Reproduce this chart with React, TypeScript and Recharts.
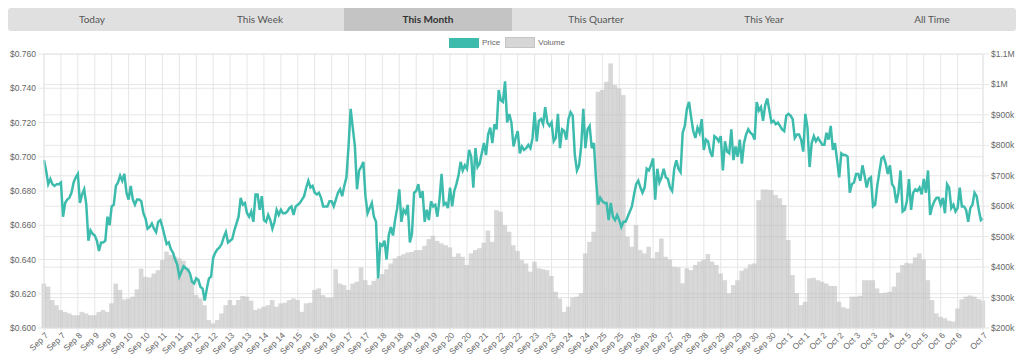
import { ComposedChart, Bar, Line, XAxis, YAxis, CartesianGrid } from "recharts";

const tabs = ["Today", "This Week", "This Month", "This Quarter", "This Year", "All Time"];
const activeTab = "This Month";

const tickLabels = [
  "Sep 7", "Sep 7", "Sep 8", "Sep 9", "Sep 9", "Sep 10", "Sep 10", "Sep 11", "Sep 11", "Sep 12",
  "Sep 12", "Sep 13", "Sep 13", "Sep 14", "Sep 14", "Sep 15", "Sep 16", "Sep 16", "Sep 17", "Sep 17",
  "Sep 18", "Sep 18", "Sep 19", "Sep 19", "Sep 20", "Sep 20", "Sep 21", "Sep 22", "Sep 22", "Sep 23",
  "Sep 23", "Sep 24", "Sep 24", "Sep 25", "Sep 25", "Sep 26", "Sep 26", "Sep 27", "Sep 28", "Sep 28",
  "Sep 29", "Sep 29", "Sep 30", "Sep 30", "Oct 1", "Oct 1", "Oct 2", "Oct 2", "Oct 3", "Oct 3",
  "Oct 4", "Oct 5", "Oct 5", "Oct 6", "Oct 6", "Oct 7",
];

// price in USD, sampled twice as often as volume
const price = [
  0.698, 0.692, 0.684, 0.687, 0.684, 0.683, 0.684, 0.684, 0.685, 0.665,
  0.673, 0.675, 0.676, 0.679, 0.685, 0.688, 0.690, 0.673, 0.678, 0.681,
  0.672, 0.651, 0.657, 0.655, 0.654, 0.651, 0.645, 0.650, 0.650, 0.651,
  0.665, 0.660, 0.671, 0.672, 0.683, 0.685, 0.689, 0.686, 0.690, 0.679,
  0.675, 0.683, 0.675, 0.672, 0.675, 0.675, 0.674, 0.667, 0.664, 0.658,
  0.659, 0.661, 0.658, 0.656, 0.662, 0.663, 0.659, 0.654, 0.649, 0.650,
  0.646, 0.644, 0.640, 0.637, 0.630, 0.633, 0.636, 0.635, 0.634, 0.632,
  0.627, 0.626, 0.629, 0.628, 0.624, 0.623, 0.616, 0.623, 0.629, 0.630,
  0.641, 0.644, 0.646, 0.647, 0.649, 0.653, 0.656, 0.650, 0.651, 0.652,
  0.657, 0.661, 0.665, 0.676, 0.672, 0.673, 0.667, 0.665, 0.668, 0.662,
  0.678, 0.678, 0.669, 0.677, 0.663, 0.662, 0.666, 0.663, 0.658, 0.662,
  0.669, 0.666, 0.669, 0.667, 0.667, 0.668, 0.670, 0.671, 0.666, 0.671,
  0.672, 0.673, 0.675, 0.677, 0.682, 0.686, 0.682, 0.683, 0.679, 0.678,
  0.679, 0.676, 0.671, 0.671, 0.671, 0.674, 0.674, 0.671, 0.675, 0.679,
  0.681, 0.677, 0.683, 0.688, 0.706, 0.728, 0.717, 0.706, 0.681, 0.692,
  0.694, 0.697, 0.677, 0.667, 0.670, 0.673, 0.665, 0.662, 0.629, 0.649,
  0.648, 0.651, 0.640, 0.654, 0.659, 0.654, 0.663, 0.670, 0.681, 0.662,
  0.669, 0.667, 0.672, 0.650, 0.655, 0.679, 0.680, 0.684, 0.676, 0.680,
  0.662, 0.669, 0.663, 0.674, 0.671, 0.672, 0.665, 0.675, 0.690, 0.672,
  0.673, 0.670, 0.682, 0.671, 0.680, 0.684, 0.689, 0.697, 0.692, 0.695,
  0.693, 0.704, 0.700, 0.682, 0.705, 0.694, 0.696, 0.702, 0.708, 0.701,
  0.713, 0.717, 0.708, 0.719, 0.716, 0.739, 0.733, 0.732, 0.744, 0.720,
  0.725, 0.720, 0.706, 0.711, 0.715, 0.702, 0.706, 0.704, 0.705, 0.707,
  0.705, 0.711, 0.726, 0.709, 0.721, 0.722, 0.719, 0.729, 0.720, 0.718,
  0.720, 0.709, 0.711, 0.725, 0.705, 0.716, 0.715, 0.710, 0.722, 0.726,
  0.724, 0.701, 0.692, 0.695, 0.706, 0.728, 0.705, 0.716, 0.718, 0.705,
  0.708, 0.687, 0.672, 0.676, 0.674, 0.673, 0.673, 0.663, 0.673, 0.665,
  0.663, 0.666, 0.663, 0.659, 0.662, 0.662, 0.665, 0.668, 0.671, 0.678,
  0.684, 0.686, 0.682, 0.679, 0.682, 0.693, 0.692, 0.695, 0.699, 0.675,
  0.693, 0.685, 0.688, 0.693, 0.688, 0.687, 0.682, 0.680, 0.693, 0.698,
  0.693, 0.691, 0.714, 0.718, 0.728, 0.732, 0.723, 0.715, 0.711, 0.717,
  0.714, 0.722, 0.704, 0.710, 0.709, 0.703, 0.700, 0.712, 0.711, 0.709,
  0.712, 0.692, 0.709, 0.703, 0.702, 0.716, 0.698, 0.706, 0.700, 0.710,
  0.696, 0.708, 0.713, 0.716, 0.714, 0.713, 0.710, 0.732, 0.727, 0.729,
  0.721, 0.730, 0.734, 0.727, 0.720, 0.721, 0.719, 0.720, 0.718, 0.716,
  0.715, 0.724, 0.725, 0.724, 0.722, 0.711, 0.713, 0.713, 0.710, 0.703,
  0.725, 0.717, 0.694, 0.708, 0.712, 0.709, 0.711, 0.709, 0.707, 0.707,
  0.714, 0.710, 0.718, 0.704, 0.708, 0.698, 0.688, 0.702, 0.701, 0.701,
  0.700, 0.679, 0.684, 0.685, 0.690, 0.690, 0.686, 0.695, 0.689, 0.682,
  0.687, 0.688, 0.671, 0.672, 0.683, 0.691, 0.699, 0.700, 0.696, 0.690,
  0.695, 0.684, 0.682, 0.673, 0.679, 0.692, 0.668, 0.669, 0.674, 0.687,
  0.669, 0.679, 0.681, 0.680, 0.682, 0.678, 0.687, 0.679, 0.692, 0.666,
  0.671, 0.674, 0.676, 0.676, 0.672, 0.676, 0.667, 0.684, 0.682, 0.670,
  0.672, 0.668, 0.670, 0.682, 0.671, 0.671, 0.669, 0.662, 0.670, 0.672,
  0.679, 0.677, 0.669, 0.663, 0.664,
];

// volume in thousands of USD
const volume = [
  346, 336, 292, 275, 259, 253, 248, 242, 242, 253,
  248, 242, 242, 253, 259, 253, 281, 346, 325, 294,
  297, 303, 327, 395, 368, 366, 379, 390, 423, 451,
  440, 434, 429, 421, 396, 357, 308, 297, 275, 226,
  215, 226, 248, 275, 292, 275, 292, 305, 303, 290,
  259, 264, 270, 275, 292, 270, 281, 283, 292, 297,
  292, 253, 281, 283, 325, 330, 308, 300, 300, 393,
  346, 341, 325, 346, 352, 399, 357, 341, 355, 363,
  377, 393, 412, 429, 436, 442, 448, 450, 456, 456,
  470, 492, 503, 486, 478, 472, 465, 434, 445, 434,
  407, 445, 456, 462, 480, 520, 483, 587, 582, 538,
  516, 472, 453, 423, 412, 385, 418, 396, 393, 390,
  371, 319, 297, 253, 270, 300, 303, 314, 445, 483,
  516, 976, 982, 1009, 1069, 998, 987, 965, 500, 467,
  538, 456, 445, 467, 429, 450, 494, 434, 425, 401,
  399, 347, 396, 390, 407, 418, 425, 443, 418, 407,
  379, 357, 314, 341, 357, 388, 396, 409, 412, 620,
  655, 655, 653, 637, 626, 604, 489, 374, 314, 275,
  286, 363, 365, 357, 352, 346, 338, 338, 286, 268,
  264, 303, 303, 306, 357, 357, 357, 330, 314, 316,
  319, 336, 382, 407, 414, 412, 432, 445, 425, 357,
  292, 248, 237, 232, 224, 221, 264, 294, 303, 307,
  303, 295, 290,
];

const priceTicks = [0.6, 0.62, 0.64, 0.66, 0.68, 0.7, 0.72, 0.74, 0.76];
const volumeTicks = [200000, 300000, 400000, 500000, 600000, 700000, 800000, 900000, 1000000, 1100000];

const TEAL = "#3dbcae";
const GRID = "#e6e6e6";
const FONT = "'Liberation Sans', Arial, sans-serif";

const volumeRows = volume.map((v, i) => ({ i, volume: v * 1000 }));
const priceRows = price.map((p, j) => ({ j, price: p }));

// a label every 4 volume points, plus the last point
const tickIdx = tickLabels.map((_, k) => (k < tickLabels.length - 1 ? k * 4 : volumeRows.length - 1));
const labelAt: Record<number, string> = {};
tickIdx.forEach((idx, k) => (labelAt[idx] = tickLabels[k]));

const fmtVolume = (v: number) => (v >= 1000000 ? `$${v / 1000000}M` : `$${v / 1000}k`);

function XTick({ x, y, payload }: any) {
  return (
    <g transform={`translate(${x + 2},${y})`}>
      <text x={0} y={0} dy={4} textAnchor="end" fill="#666" fontSize={8.5} fontFamily={FONT} transform="rotate(-45)">
        {labelAt[payload.value]}
      </text>
    </g>
  );
}

// bars drawn slightly wider so neighbours touch, like the original
function VolumeBar(props: any) {
  const { x, y, width, height } = props;
  if (!height || height <= 0) return null;
  return <rect x={x - 0.8} y={y} width={width + 1.6} height={height} fill="#b8b8b8" fillOpacity={0.55} />;
}

export default function App() {
  return (
    <div style={{ position: "relative", width: 1008, height: 352 }}>
      <div
        style={{
          position: "absolute",
          top: 0,
          left: 0,
          width: 1008,
          height: 23,
          display: "flex",
          background: "#e0e0e0",
          borderRadius: 3,
          overflow: "hidden",
          fontFamily: "Lato, sans-serif",
          fontSize: 10,
        }}
      >
        {tabs.map((t) => (
          <div
            key={t}
            style={{
              flex: 1,
              textAlign: "center",
              lineHeight: "23px",
              color: t === activeTab ? "#333" : "#555",
              fontWeight: t === activeTab ? 700 : 400,
              background: t === activeTab ? "#c4c4c4" : "transparent",
            }}
          >
            {t}
          </div>
        ))}
      </div>

      <div
        style={{
          position: "absolute",
          top: 29,
          left: 441,
          display: "flex",
          alignItems: "center",
          fontFamily: FONT,
          fontSize: 8,
          color: "#666",
        }}
      >
        <span style={{ width: 30, height: 10, background: TEAL, marginRight: 3 }} />
        <span style={{ marginRight: 5 }}>Price</span>
        <span style={{ width: 28, height: 9, background: "#d6d6d6", border: "1px solid #c4c4c4", marginRight: 3 }} />
        <span>Volume</span>
      </div>

      <div style={{ position: "absolute", top: 40, left: 0 }}>
        <ComposedChart width={1008} height={312} data={volumeRows} margin={{ top: 6, right: 0, bottom: 0, left: 0 }}>
          <CartesianGrid xAxisId="vol" yAxisId="left" stroke={GRID} />
          <CartesianGrid xAxisId="vol" yAxisId="right" stroke={GRID} vertical={false} />
          <XAxis
            xAxisId="vol"
            dataKey="i"
            type="number"
            domain={[0, volumeRows.length - 1]}
            ticks={tickIdx}
            interval={0}
            height={32}
            tick={<XTick />}
            tickSize={3}
            tickLine={{ stroke: GRID }}
            axisLine={{ stroke: GRID }}
          />
          <XAxis
            xAxisId="px"
            dataKey="j"
            type="number"
            domain={[0, priceRows.length - 1]}
            orientation="top"
            height={0}
            hide
          />
          <YAxis
            yAxisId="left"
            domain={[0.6, 0.76]}
            ticks={priceTicks}
            width={36}
            tickFormatter={(v: number) => `$${v.toFixed(3)}`}
            tick={{ fill: "#666", fontSize: 8.5, fontFamily: FONT }}
            tickLine={{ stroke: GRID }}
            axisLine={{ stroke: GRID }}
          />
          <YAxis
            yAxisId="right"
            orientation="right"
            domain={[200000, 1100000]}
            ticks={volumeTicks}
            width={33}
            tickFormatter={fmtVolume}
            tick={{ fill: "#666", fontSize: 8.5, fontFamily: FONT }}
            tickLine={{ stroke: GRID }}
            axisLine={{ stroke: GRID }}
          />
          <Bar
            xAxisId="vol"
            yAxisId="right"
            dataKey="volume"
            shape={<VolumeBar />}
            isAnimationActive={false}
          />
          <Line
            xAxisId="px"
            yAxisId="left"
            data={priceRows}
            dataKey="price"
            type="linear"
            stroke={TEAL}
            strokeWidth={2.5}
            dot={false}
            isAnimationActive={false}
          />
        </ComposedChart>
      </div>
    </div>
  );
}
